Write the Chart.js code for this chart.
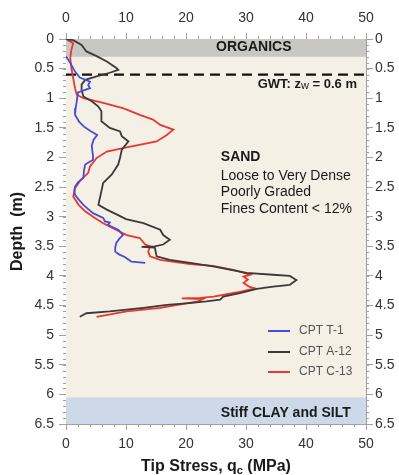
<!DOCTYPE html>
<html><head><meta charset="utf-8">
<script src="https://cdn.jsdelivr.net/npm/chart.js@4/dist/chart.umd.min.js"></script>
<style>html,body{margin:0;padding:0;background:#fff;}</style>
</head><body>
<canvas id="c" width="399" height="475"></canvas>
<script>
// ---------- DATA ----------
const seriesNames = ['CPT T-1', 'CPT A-12', 'CPT C-13'];
const seriesColors = ['#4b4bd2', '#3a3a3a', '#e8372f'];

const t1Depth = [0.29, 0.42, 0.55, 0.65, 0.72, 0.78, 0.83, 0.90, 0.97, 1.05, 1.17, 1.28, 1.40, 1.48, 1.55, 1.62, 1.70, 1.80, 1.90, 1.96, 2.04, 2.12, 2.22, 2.34, 2.42, 2.49, 2.56, 2.63, 2.72, 2.80, 2.88, 2.94, 3.02, 3.08, 3.10, 3.14, 3.22, 3.31, 3.37, 3.44, 3.52, 3.59, 3.64, 3.68, 3.73, 3.76, 3.78];
const t1Q     = [0.0, 0.8, 1.5, 2.3, 4.0, 3.7, 4.0, 2.0, 1.9, 1.8, 1.6, 1.5, 2.2, 3.0, 4.0, 5.2, 4.6, 4.3, 4.4, 4.5, 4.5, 3.2, 3.0, 2.9, 2.0, 1.5, 1.4, 1.5, 2.2, 2.9, 3.8, 4.5, 6.2, 6.5, 7.3, 7.0, 8.7, 9.5, 8.9, 8.4, 8.2, 8.2, 8.9, 9.8, 10.5, 10.9, 13.2];

const a12Depth = [0.00, 0.02, 0.10, 0.21, 0.29, 0.38, 0.49, 0.52, 0.57, 0.63, 0.69, 0.77, 0.86, 0.97, 1.05, 1.14, 1.22, 1.39, 1.50, 1.56, 1.64, 1.73, 1.87, 2.01, 2.12, 2.29, 2.43, 2.57, 2.80, 2.88, 2.97, 3.04, 3.11, 3.22, 3.31, 3.39, 3.47, 3.50, 3.51, 3.52, 3.67, 3.73, 3.78, 3.84, 3.95, 3.98, 4.00, 4.07, 4.15, 4.18, 4.22, 4.29, 4.35, 4.40, 4.43, 4.46, 4.49, 4.54, 4.60, 4.63, 4.69];
const a12Q     = [0.0, 1.2, 2.6, 3.4, 5.1, 6.8, 8.4, 8.7, 7.3, 5.1, 3.2, 2.6, 2.6, 2.9, 4.3, 5.4, 5.9, 5.9, 7.3, 9.0, 9.3, 10.4, 9.3, 9.0, 8.7, 7.6, 6.2, 5.9, 5.4, 6.8, 8.6, 10.0, 12.9, 15.7, 16.2, 17.3, 16.2, 14.8, 12.6, 14.8, 15.1, 17.3, 20.7, 24.5, 30.1, 34.5, 37.3, 38.4, 37.3, 34.5, 31.8, 29.0, 26.2, 25.7, 23.4, 20.5, 16.8, 12.9, 7.3, 3.4, 2.3];

const c13Depth = [0.00, 0.04, 0.07, 0.18, 0.32, 0.49, 0.66, 0.83, 0.94, 1.00, 1.08, 1.17, 1.28, 1.36, 1.45, 1.53, 1.62, 1.73, 1.83, 1.90, 2.01, 2.15, 2.26, 2.40, 2.52, 2.66, 2.80, 2.91, 3.00, 3.11, 3.31, 3.36, 3.47, 3.50, 3.59, 3.67, 3.73, 3.80, 3.83, 3.90, 3.98, 4.01, 4.06, 4.12, 4.18, 4.21, 4.28, 4.35, 4.37, 4.38, 4.39, 4.43, 4.54, 4.60, 4.69];
const c13Q     = [0.0, 0.7, 1.2, 0.9, 0.7, 0.9, 1.2, 1.5, 1.8, 2.9, 6.2, 9.6, 12.3, 14.5, 15.7, 17.9, 16.8, 15.1, 10.1, 6.8, 5.1, 4.0, 3.7, 2.3, 1.5, 1.2, 2.1, 3.2, 4.5, 6.2, 10.1, 12.3, 13.2, 14.0, 13.7, 14.0, 15.7, 20.7, 24.5, 27.9, 30.7, 29.6, 30.3, 29.6, 30.5, 31.5, 28.4, 24.6, 22.4, 19.3, 22.8, 22.0, 15.7, 10.1, 5.1];

const qTickValues = [0, 10, 20, 30, 40, 50];
const qTickLabels = ['0', '10', '20', '30', '40', '50'];
const depthTickValues = [0, 0.5, 1, 1.5, 2, 2.5, 3, 3.5, 4, 4.5, 5, 5.5, 6, 6.5];
const depthTickLabels = ['0', '0.5', '1', '1.5', '2', '2.5', '3', '3.5', '4', '4.5', '5', '5.5', '6', '6.5'];

const layerTops = [0, 6.05];
const layerBottoms = [0.3, 6.5];
const layerColors = ['#c9c7c4', '#cdd9e9'];
const gwtDepth = 0.6;

// ---------- HELPERS ----------
const FONT = "'Liberation Sans', Arial, sans-serif";
const toPts = (qs, ds) => qs.map((q, i) => ({ x: q, y: ds[i] }));

const bgPlugin = {
  id: 'bg',
  beforeDatasetsDraw(chart) {
    const { ctx, chartArea: a, scales } = chart;
    ctx.save();
    ctx.fillStyle = '#f4f0e6';
    ctx.fillRect(a.left, a.top, a.right - a.left, a.bottom - a.top);
    const y = scales.y, x = scales.x;
    for (let i = 0; i < layerTops.length; i++) {
      const y0 = y.getPixelForValue(layerTops[i]);
      const y1 = y.getPixelForValue(layerBottoms[i]);
      ctx.fillStyle = layerColors[i];
      ctx.fillRect(x.getPixelForValue(0), y0, x.getPixelForValue(50) - x.getPixelForValue(0), y1 - y0);
    }
    ctx.restore();
  }
};

const decoPlugin = {
  id: 'deco',
  afterDraw(chart) {
    const { ctx, chartArea: a, scales } = chart;
    const x = scales.x, y = scales.y;
    ctx.save();
    // minor ticks
    ctx.strokeStyle = '#a0a0a0';
    ctx.lineWidth = 1;
    ctx.beginPath();
    for (let v = 0; v <= 50.001; v += 2) {
      const px = Math.round(x.getPixelForValue(v)) + 0.5;
      ctx.moveTo(px, a.bottom); ctx.lineTo(px, a.bottom + 3);
      ctx.moveTo(px, a.top); ctx.lineTo(px, a.top - 3);
    }
    for (let v = 0; v <= 6.5001; v += 0.1) {
      const py = Math.round(y.getPixelForValue(v)) + 0.5;
      ctx.moveTo(a.left, py); ctx.lineTo(a.left - 3, py);
      ctx.moveTo(a.right, py); ctx.lineTo(a.right + 3, py);
    }
    ctx.stroke();

    ctx.fillStyle = '#1a1a1a';
    ctx.textBaseline = 'middle';
    // ORGANICS
    ctx.font = 'bold 14px ' + FONT;
    ctx.textAlign = 'center';
    ctx.fillText('ORGANICS', x.getPixelForValue(31.3), y.getPixelForValue(0.13));
    // Stiff clay
    ctx.textAlign = 'left';
    ctx.fillText('Stiff CLAY and SILT', x.getPixelForValue(25.8), y.getPixelForValue(6.31));
    // SAND block
    ctx.fillText('SAND', x.getPixelForValue(25.8), y.getPixelForValue(2.0));
    ctx.font = '14px ' + FONT;
    ctx.fillText('Loose to Very Dense', x.getPixelForValue(25.8), y.getPixelForValue(2.31));
    ctx.fillText('Poorly Graded', x.getPixelForValue(25.8), y.getPixelForValue(2.59));
    ctx.fillText('Fines Content < 12%', x.getPixelForValue(25.8), y.getPixelForValue(2.88));

    // GWT label with subscript w, right-aligned
    const parts = [
      ['GWT: z', 'bold 13px ' + FONT, 0],
      ['w', '11px ' + FONT, 1],
      [' = 0.6 m', 'bold 13px ' + FONT, 0]
    ];
    let total = 0;
    parts.forEach(p => { ctx.font = p[1]; total += ctx.measureText(p[0]).width; });
    let gx = x.getPixelForValue(48.5) - total;
    const gy = y.getPixelForValue(0.77);
    parts.forEach(p => { ctx.font = p[1]; ctx.fillText(p[0], gx, gy + p[2]); gx += ctx.measureText(p[0]).width; });

    // legend
    const lx0 = a.left + 202, lx1 = a.left + 224, ltx = a.left + 233;
    const ly = [a.top + 292, a.top + 313, a.top + 333];
    chart.data.datasets.forEach((ds, i) => {
      if (!ds.label || ds.label === '_gwt') return;
      ctx.strokeStyle = ds.borderColor;
      ctx.lineWidth = 2;
      ctx.beginPath(); ctx.moveTo(lx0, ly[i]); ctx.lineTo(lx1, ly[i]); ctx.stroke();
      ctx.fillStyle = '#555';
      ctx.font = '12px ' + FONT;
      ctx.textAlign = 'left';
      ctx.fillText(ds.label, ltx, ly[i]);
    });

    // x title with subscript c
    const tparts = [
      ['Tip Stress, q', 'bold 16px ' + FONT, 0],
      ['c', 'bold 11px ' + FONT, 4],
      [' (MPa)', 'bold 16px ' + FONT, 0]
    ];
    let tw = 0;
    tparts.forEach(p => { ctx.font = p[1]; tw += ctx.measureText(p[0]).width; });
    let tx = (a.left + a.right) / 2 - tw / 2;
    const ty = 467;
    ctx.fillStyle = '#1a1a1a';
    tparts.forEach(p => { ctx.font = p[1]; ctx.fillText(p[0], tx, ty + p[2]); tx += ctx.measureText(p[0]).width; });
    ctx.restore();
  }
};

function xAxis(pos, h) {
  return {
    type: 'linear', position: pos, min: 0, max: 50,
    afterBuildTicks: s => { s.ticks = qTickValues.map(v => ({ value: v })); },
    afterFit: s => { s.height = h; },
    ticks: { callback: (v, i) => qTickLabels[i], font: { size: 14, family: FONT }, color: '#333', padding: 6, maxRotation: 0 },
    grid: { drawOnChartArea: false, tickLength: 6, tickColor: '#a0a0a0' },
    border: { display: true, color: '#a0a0a0', width: 1 }
  };
}
function yAxis(pos, w, pad, title) {
  const o = {
    type: 'linear', position: pos, min: 0, max: 6.5, reverse: true,
    afterBuildTicks: s => { s.ticks = depthTickValues.map(v => ({ value: v })); },
    afterFit: s => { s.width = w; },
    ticks: { callback: (v, i) => depthTickLabels[i], font: { size: 14, family: FONT }, color: '#333', padding: pad },
    grid: { drawOnChartArea: false, tickLength: 7, tickColor: '#a0a0a0' },
    border: { display: true, color: '#a0a0a0', width: 1 }
  };
  if (title) o.title = { display: true, text: 'Depth  (m)', font: { size: 16, weight: 'bold', family: FONT }, color: '#1a1a1a', padding: { top: 8, bottom: 0 } };
  return o;
}

new Chart(document.getElementById('c'), {
  type: 'scatter',
  data: {
    datasets: [
      { label: seriesNames[0], data: toPts(t1Q, t1Depth), borderColor: seriesColors[0], showLine: true, pointRadius: 0, borderWidth: 1.8, xAxisID: 'x', yAxisID: 'y' },
      { label: seriesNames[1], data: toPts(a12Q, a12Depth), borderColor: seriesColors[1], showLine: true, pointRadius: 0, borderWidth: 1.8, xAxisID: 'x', yAxisID: 'y' },
      { label: seriesNames[2], data: toPts(c13Q, c13Depth), borderColor: seriesColors[2], showLine: true, pointRadius: 0, borderWidth: 1.8, xAxisID: 'x', yAxisID: 'y' },
      { label: '_gwt', data: [{ x: 0, y: gwtDepth }, { x: 50, y: gwtDepth }], borderColor: '#111', borderDash: [10, 6], showLine: true, pointRadius: 0, borderWidth: 2.2, xAxisID: 'x', yAxisID: 'y' }
    ]
  },
  options: {
    responsive: false, animation: false, devicePixelRatio: 1,
    layout: { padding: 0 },
    plugins: { legend: { display: false }, tooltip: { enabled: false } },
    scales: {
      x: xAxis('bottom', 51),
      x2: xAxis('top', 39),
      y: yAxis('left', 66, 5, true),
      y2: yAxis('right', 33, 2, false)
    }
  },
  plugins: [bgPlugin, decoPlugin]
});
</script>
</body></html>
